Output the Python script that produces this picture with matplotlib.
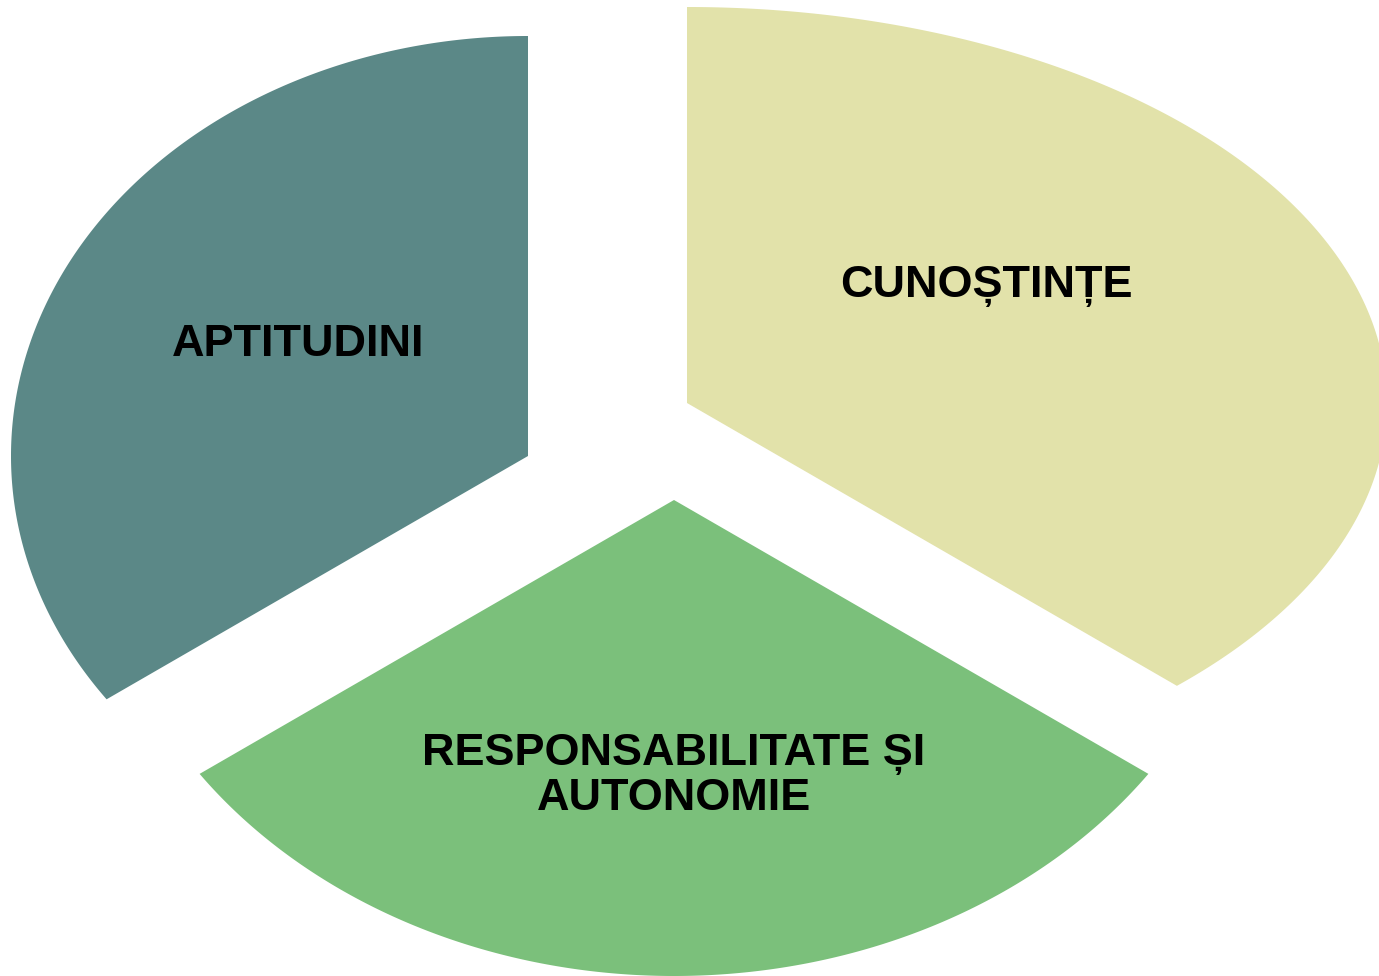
import numpy as np
import matplotlib
matplotlib.use("Agg")
import matplotlib.pyplot as plt
from matplotlib.patches import Polygon

# --- data ---
categories = ["CUNOȘTINȚE", "RESPONSABILITATE ȘI\nAUTONOMIE", "APTITUDINI"]
values = [1, 1, 1]

# --- style / layout ---
colors = ["#E2E2AA", "#7BC07B", "#5B8887"]
apex = [(687, 403), (674, 500), (528, 456)]        # exploded slice tips (px)
radii = [(700, 396), (580, 476), (517, 420)]        # (rx, ry) per slice (px)
label_pos = [(986, 297), (674, 810), (298, 356)]    # baseline of last line (px)
start_angle = 90

W, H = 1379, 976
fig = plt.figure(figsize=(W / 100, H / 100), dpi=100)
ax = fig.add_axes([0, 0, 1, 1])
ax.set_xlim(0, W)
ax.set_ylim(H, 0)
ax.axis("off")

total = sum(values)
a0 = start_angle
for i, v in enumerate(values):
    a1 = a0 - 360 * v / total
    phi = np.radians(np.linspace(a0, a1, 400))
    rx, ry = radii[i]
    r = 1.0 / np.sqrt((np.cos(phi) / rx) ** 2 + (np.sin(phi) / ry) ** 2)
    cx, cy = apex[i]
    xs = cx + r * np.cos(phi)
    ys = cy - r * np.sin(phi)
    pts = np.column_stack([np.r_[cx, xs], np.r_[cy, ys]])
    ax.add_patch(Polygon(pts, closed=True, facecolor=colors[i], edgecolor="none"))
    a0 = a1

for lab, (x, y) in zip(categories, label_pos):
    ax.text(x, y, lab, ha="center", va="baseline", fontsize=32.4, fontweight="bold",
            family=["Liberation Sans", "DejaVu Sans"], color="#000000",
            linespacing=1.10, multialignment="center")

fig.savefig("out.png", dpi=100)
